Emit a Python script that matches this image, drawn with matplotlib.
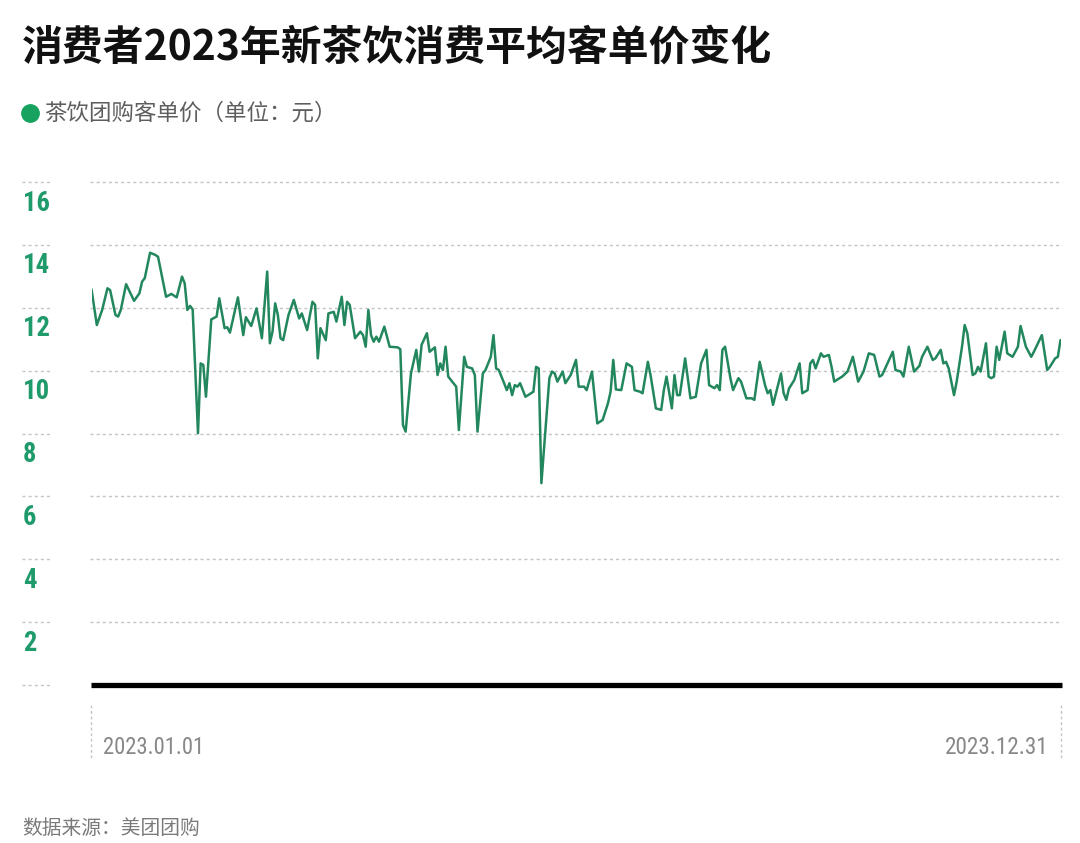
import matplotlib
matplotlib.use("Agg")
import matplotlib.pyplot as plt
from matplotlib import font_manager as fm
from matplotlib.transforms import blended_transform_factory, ScaledTranslation
import pandas as pd

# ---------------- data ----------------
title = "消费者2023年新茶饮消费平均客单价变化"
legend_label = "茶饮团购客单价（单位：元）"
source = "数据来源：美团团购"
start_label = "2023.01.01"
end_label = "2023.12.31"
y_ticks = [2, 4, 6, 8, 10, 12, 14, 16]

# day offset from 2023-01-01 and average price per order (yuan)
day = [0, 2, 4, 6, 7, 9, 10, 11, 13, 16, 18, 19, 20, 22, 24, 25, 28, 30, 32, 34,
       35, 36, 37, 38, 40, 41, 42, 43, 45, 47, 48, 50, 51, 52, 55, 57, 58, 60, 62, 64,
       66, 67, 68, 69, 70, 71, 72, 74, 76, 78, 79, 81, 83, 84, 85, 86, 88, 89, 91, 92,
       94, 95, 96, 97, 99, 101, 102, 103, 104, 105, 106, 107, 108, 110, 112, 115, 116, 117, 118, 120,
       122, 123, 124, 126, 127, 129, 130, 131, 132, 133, 134, 136, 137, 138, 140, 141, 143, 144, 145, 147,
       148, 150, 151, 152, 153, 155, 156, 157, 158, 159, 160, 161, 163, 164, 166, 167, 168, 169, 172, 173,
       174, 175, 177, 178, 180, 182, 183, 185, 186, 188, 190, 192, 194, 195, 196, 197, 199, 201, 203, 204,
       206, 207, 209, 210, 212, 214, 215, 216, 218, 219, 220, 221, 223, 225, 227, 229, 231, 232, 234, 235,
       236, 237, 238, 240, 241, 243, 244, 246, 248, 249, 251, 253, 254, 255, 256, 259, 260, 261, 262, 264,
       266, 267, 269, 270, 271, 272, 274, 275, 277, 278, 279, 281, 282, 284, 286, 288, 290, 292, 294, 296,
       297, 299, 301, 302, 304, 305, 307, 309, 311, 312, 314, 316, 317, 319, 320, 321, 322, 324, 325, 327,
       328, 329, 331, 332, 333, 334, 336, 337, 338, 339, 340, 341, 343, 344, 346, 348, 349, 351, 353, 354,
       357, 359, 360, 362, 363, 364]
price = [12.59, 11.45, 11.93, 12.62, 12.56, 11.77, 11.72, 11.93, 12.75, 12.22, 12.46, 12.83, 12.94, 13.75, 13.68, 13.62, 12.35, 12.44, 12.33, 12.99,
         12.78, 11.93, 12.06, 11.95, 8.01, 10.23, 10.18, 9.17, 11.63, 11.72, 12.30, 11.35, 11.38, 11.21, 12.33, 11.13, 11.70, 11.42, 11.98, 11.03,
         13.15, 10.87, 11.24, 12.14, 11.77, 11.03, 10.97, 11.77, 12.25, 11.66, 11.82, 11.29, 12.19, 12.09, 10.39, 11.35, 10.97, 11.82, 11.87, 11.56,
         12.35, 11.45, 12.19, 12.09, 11.03, 11.24, 11.13, 10.76, 11.93, 11.13, 10.92, 11.08, 10.92, 11.40, 10.76, 10.74, 10.68, 8.27, 8.06, 9.91,
         10.66, 9.97, 10.82, 11.19, 10.60, 10.74, 9.86, 10.23, 10.02, 10.76, 9.81, 9.60, 9.49, 8.11, 10.44, 10.12, 10.07, 9.86, 8.06, 9.91,
         10.02, 10.44, 11.13, 10.07, 10.02, 9.60, 9.38, 9.60, 9.22, 9.54, 9.49, 9.60, 9.17, 9.22, 9.33, 10.12, 10.07, 6.42, 9.76, 9.97,
         9.91, 9.65, 9.97, 9.60, 9.86, 10.34, 9.49, 9.49, 9.38, 9.97, 8.32, 8.43, 8.96, 9.33, 10.34, 9.40, 9.38, 10.23, 10.12, 9.38,
         9.33, 9.28, 10.28, 9.86, 8.80, 8.75, 9.38, 9.81, 8.80, 9.86, 9.22, 9.22, 10.39, 9.12, 9.17, 10.23, 10.66, 9.54, 9.44, 9.54,
         9.38, 10.66, 10.76, 9.76, 9.38, 9.76, 9.65, 9.12, 9.12, 9.07, 10.28, 9.54, 9.28, 9.38, 8.91, 9.91, 9.28, 9.07, 9.43, 9.70,
         10.23, 9.28, 9.38, 10.23, 10.34, 10.07, 10.55, 10.44, 10.50, 10.12, 9.65, 9.76, 9.81, 9.97, 10.44, 9.65, 9.97, 10.55, 10.50, 9.81,
         9.86, 10.23, 10.60, 10.02, 9.97, 9.81, 10.76, 9.97, 10.15, 10.44, 10.76, 10.34, 10.39, 10.66, 10.23, 10.28, 10.07, 9.22, 9.65, 10.76,
         11.45, 11.19, 9.86, 9.91, 10.12, 9.97, 10.87, 9.81, 9.76, 9.81, 10.76, 10.34, 11.24, 10.55, 10.44, 10.76, 11.42, 10.76, 10.44, 10.60,
         11.13, 10.02, 10.12, 10.39, 10.44, 10.97]

# ---------------- fonts ----------------
ttf = fm.fontManager.ttflist
names = {f.name for f in ttf}
CJK = "Noto Sans CJK SC"
narrow_kw = None
for cand in ("Roboto Condensed", "Liberation Sans Narrow", "Open Sans Condensed",
             "DejaVu Sans Condensed", "Noto Sans Condensed"):
    if cand in names:
        narrow_kw = dict(family=cand)
        break
if narrow_kw is None:
    cond = [f for f in ttf if str(f.stretch) in ("condensed", "semi-condensed",
                                                  "extra-condensed", "ultra-condensed")
            or (isinstance(f.stretch, int) and f.stretch < 500)]
    if cond:
        narrow_kw = dict(family=cond[0].name, fontstretch=cond[0].stretch)
    else:
        narrow_kw = dict(family="Roboto")
plt.rcParams["font.family"] = [CJK, "DejaVu Sans"]

LINE_C = "#23875e"
TICK_C = "#1f9a6b"
DOT_C = "#17a35f"
GRID_C = "#c4c4c4"

W, H = 1080, 843
fig = plt.figure(figsize=(W / 100, H / 100), dpi=100)
fig.patch.set_facecolor("white")
renderer = fig.canvas.get_renderer()


def fit(txt, target_px):
    """scale a text's font size so its rendered width equals target_px"""
    w = txt.get_window_extent(renderer).width
    if w > 0:
        txt.set_fontsize(txt.get_fontsize() * target_px / w)
    return txt


ax = fig.add_axes([91.5 / W, 1 - 685 / H, (1060.5 - 91.5) / W, (685 - 182) / H])

dates = pd.Timestamp("2023-01-01") + pd.to_timedelta(day, unit="D")
ax.plot(dates, price, color=LINE_C, lw=1.8, solid_joinstyle="round",
        solid_capstyle="round", zorder=3)

ax.set_xlim(pd.Timestamp("2023-01-01"), pd.Timestamp("2023-12-31"))
ax.set_ylim(0, 16)
for s in ax.spines.values():
    s.set_visible(False)
ax.set_xticks([])
ax.set_yticks([])

tr = blended_transform_factory(fig.transFigure, ax.transData)
off = ScaledTranslation(0, -21 / 100, fig.dpi_scale_trans)
for v in y_ticks:
    ax.plot([90 / W, 1062 / W], [v, v], transform=tr, color=GRID_C, lw=1.0,
            ls=(0, (2.2, 2.2)), clip_on=False, zorder=1)
    ax.plot([22 / W, 52 / W], [v, v], transform=tr, color=GRID_C, lw=1.0,
            ls=(0, (2.2, 2.2)), clip_on=False, zorder=1)
    t = ax.text(23 / W, v, str(v), transform=tr + off, ha="left", va="center",
                fontsize=20, color=TICK_C, fontweight="bold", **narrow_kw)
    fit(t, 27 if v >= 10 else 13.5)
ax.plot([22 / W, 52 / W], [0, 0], transform=tr, color=GRID_C, lw=1.0,
        ls=(0, (2.2, 2.2)), clip_on=False)
ax.plot([90.5 / W, 1062 / W], [0, 0], transform=tr, color="black", lw=3.8,
        solid_capstyle="butt", clip_on=False, zorder=4)

for xp in (91, 1061):
    fig.add_artist(plt.Line2D([xp / W, xp / W], [1 - 705 / H, 1 - 760 / H],
                              color=GRID_C, lw=1.0, ls=(0, (2, 2))))

t1 = fig.text(103 / W, 1 - 747 / H, start_label, ha="left", va="center",
              fontsize=17, color="#888888", **narrow_kw)
fit(t1, 102)
t2 = fig.text(1048 / W, 1 - 747 / H, end_label, ha="right", va="center",
              fontsize=17, color="#888888", **narrow_kw)
fit(t2, 103)

tt = fig.text(22 / W, 1 - 48 / H, title, ha="left", va="center", fontsize=29.5,
              fontweight="bold", color="#111111")
fit(tt, 751)
fig.add_artist(plt.Line2D([30 / W], [1 - 113 / H], marker="o", markersize=12.5,
                          color=DOT_C, lw=0, transform=fig.transFigure))
tl = fig.text(44 / W, 1 - 113 / H, legend_label, ha="left", va="center",
              fontsize=16.7, color="#5e5e5e")
fit(tl, 291)
ts = fig.text(22 / W, 1 - 828 / H, source, ha="left", va="center",
              fontsize=14.2, color="#7a7a7a")
fit(ts, 178)

fig.savefig("out.png", dpi=100, facecolor="white")
